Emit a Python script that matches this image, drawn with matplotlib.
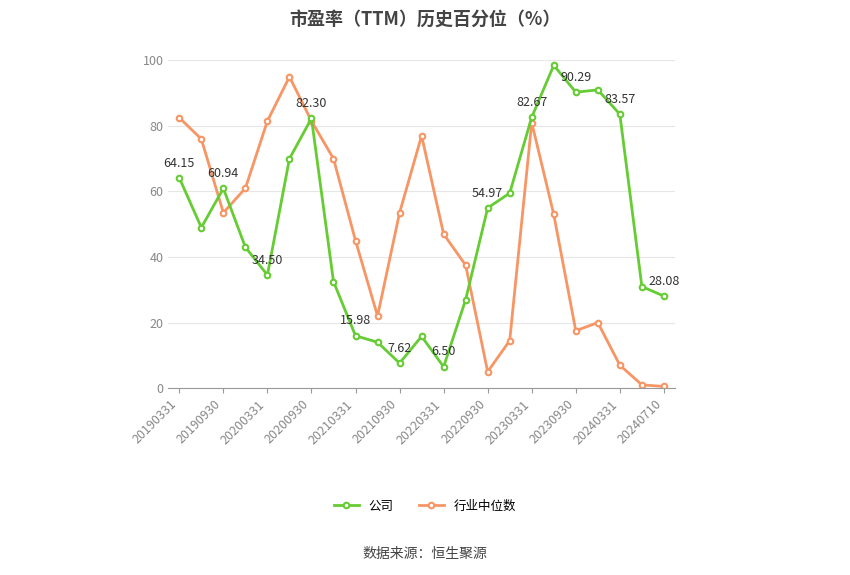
import matplotlib.pyplot as plt

plt.rcParams['font.family'] = 'Noto Sans CJK SC'

dates = ['20190331', '20190930', '20200331', '20200930', '20210331', '20210930',
         '20220331', '20220930', '20230331', '20230930', '20240331', '20240710']
company = [64.15, 49, 60.94, 43, 34.50, 70, 82.30, 32.5, 15.98, 14, 7.62, 15.8,
           6.50, 27, 54.97, 59.5, 82.67, 98.5, 90.29, 91, 83.57, 31, 28.08]
industry = [82.5, 76, 53.5, 61, 81.5, 95, 81.5, 70, 45, 22, 53.5, 77,
            47, 37.5, 5, 14.5, 81, 53, 17.5, 20, 7, 1, 0.5]

green = '#66cc33'
orange = '#f79565'

fig = plt.figure(figsize=(8.5, 5.75), dpi=100)
ax = fig.add_axes([0.198, 0.325, 0.596, 0.57])
x = list(range(len(company)))
ax.plot(x, company, color=green, lw=2, marker='o', ms=4, mfc='white', mec=green, mew=1.5, label='公司', zorder=3)
ax.plot(x, industry, color=orange, lw=2, marker='o', ms=4, mfc='white', mec=orange, mew=1.5, label='行业中位数', zorder=2)

for i in range(0, len(company), 2):
    ax.annotate(f'{company[i]:.2f}', (x[i], company[i]), xytext=(0, 6),
                textcoords='offset points', ha='center', va='bottom', fontsize=9, color='#333333')

ax.set_ylim(0, 100)
ax.set_xlim(-0.5, len(company) - 0.5)
ax.set_yticks(range(0, 101, 20))
ax.set_xticks(range(0, len(company), 2))
ax.set_xticklabels(dates, rotation=45, ha='right', fontsize=9, color='#888888')
ax.tick_params(axis='y', length=0, labelsize=9, labelcolor='#888888')
ax.tick_params(axis='x', color='#999999')
ax.grid(axis='y', color='#e6e6e6', lw=0.8)
ax.set_axisbelow(True)
for s in ['top', 'right', 'left']:
    ax.spines[s].set_visible(False)
ax.spines['bottom'].set_color('#999999')

fig.text(0.5, 0.965, '市盈率（TTM）历史百分位（%）', ha='center', va='center', fontsize=13, fontweight='bold', color='#444444')
fig.legend(loc='center', bbox_to_anchor=(0.5, 0.12), ncol=2, frameon=False, fontsize=9)
fig.text(0.5, 0.037, '数据来源：恒生聚源', ha='center', va='center', fontsize=10, color='#444444')

fig.savefig('out.png')
